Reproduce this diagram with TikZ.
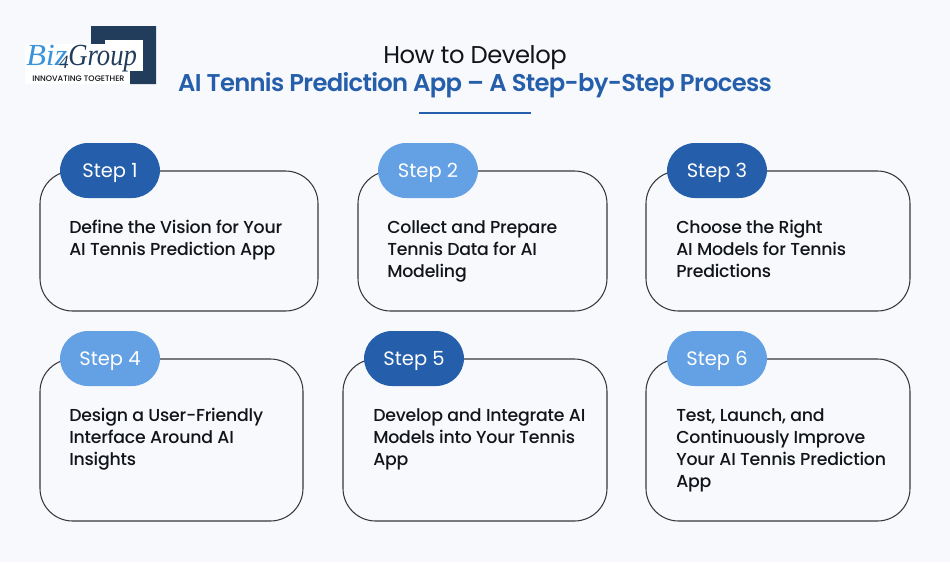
\documentclass[tikz,border=0pt]{standalone}
\usepackage{graphicx}
\usepackage{fontspec}
\setmainfont{Poppins}
\newfontfamily\medf{Poppins Medium}
\newfontfamily\semif{Poppins SemiBold}
\newfontfamily\logofont{Liberation Serif}
\definecolor{bgc}{HTML}{F8F9FC}
\definecolor{dkb}{HTML}{255EAA}
\definecolor{ltb}{HTML}{63A0E4}
\definecolor{navy}{HTML}{223D5C}
\definecolor{ink}{HTML}{111418}
\definecolor{logob}{HTML}{3A94DC}
\newcommand{\steplabel}[1]{\raisebox{-5.6pt}[0pt][0pt]{#1}}
\tikzset{
 card/.style={draw=ink!85,line width=0.8pt,rounded corners=24.5pt,fill=none},
 pill/.style={rounded corners=21pt,minimum width=75pt,minimum height=41.25pt,inner sep=0pt,text=white,font=\fontsize{14.6}{16}\selectfont},
 dark/.style={pill,fill=dkb},
 light/.style={pill,fill=ltb},
 body/.style={anchor=north west,inner sep=0pt,align=left,text=ink,font=\medf\fontsize{13}{16.5}\selectfont\addfontfeatures{LetterSpace=-1.2}}
}
\begin{document}
\begin{tikzpicture}[x=0.75pt,y=-0.75pt]
\useasboundingbox (0,0) rectangle (950,562);
\fill[bgc] (0,0) rectangle (950,562);
% logo
\fill[navy] (91,26) -- (156,26) -- (156,84) -- (130,84) -- (130,71) -- (143,71) -- (143,40) -- (105,40) -- (105,44) -- (91,44) -- cycle;
\fill[white] (25,44) rectangle (130,84);
\fill[white] (105,40) rectangle (143,71);
\node[inner sep=0pt,anchor=base west,text=logob] (lbiz) at (26,65) {\scalebox{1.05}[1]{\logofont\itshape\fontsize{23}{23}\selectfont Biz}};
\node[inner sep=0pt,anchor=base west,text=navy] (lfour) at (59,68) {\logofont\itshape\fontsize{14}{14}\selectfont 4};
\node[inner sep=0pt,anchor=base west,text=navy] (lgroup) at (68,65) {\scalebox{0.87}[1]{\logofont\itshape\fontsize{23}{23}\selectfont Group}};
\node[inner sep=0pt,anchor=base west,text=ink] (ltag) at (32,81) {\medf\fontsize{6}{6}\selectfont INNOVATING TOGETHER};
% title
\node[inner sep=0pt,anchor=base,text=ink] (t1) at (475,63) {\fontsize{18.2}{20}\selectfont\addfontfeatures{LetterSpace=-1.8} How to Develop};
\node[inner sep=0pt,anchor=base,text=dkb] (t2) at (475,91) {\semif\fontsize{18.2}{20}\selectfont\addfontfeatures{LetterSpace=-2.85} AI Tennis Prediction App – A Step-by-Step Process};
\coordinate (ul) at (419,113);
\coordinate (ur) at (531,113);
\draw[dkb,line width=1.1pt] (ul) -- (ur);
% cards
\draw[card] (40,171) rectangle (318,311);
\draw[card] (358,171) rectangle (607,311);
\draw[card] (646,171) rectangle (910,311);
\draw[card] (40,359) rectangle (303,521);
\draw[card] (343,359) rectangle (607,521);
\draw[card] (646,359) rectangle (910,521);
% pills
\node[dark]  (s1) at (110,170.5) {\steplabel{Step 1}};
\node[light] (s2) at (428,170.5) {\steplabel{Step 2}};
\node[dark]  (s3) at (717,170.5) {\steplabel{Step 3}};
\node[light] (s4) at (110,358.5) {\steplabel{Step 4}};
\node[dark]  (s5) at (414,358.5) {\steplabel{Step 5}};
\node[light] (s6) at (717,358.5) {\steplabel{Step 6}};
% body
\node[body] (b1) at (69,220) {Define the Vision for Your\\AI Tennis Prediction App};
\node[body] (b2) at (387,220) {Collect and Prepare\\Tennis Data for AI\\Modeling};
\node[body] (b3) at (676,220) {Choose the Right\\AI Models for Tennis\\Predictions};
\node[body] (b4) at (69,408) {Design a User-Friendly\\Interface Around AI\\Insights};
\node[body] (b5) at (373,408) {Develop and Integrate AI\\Models into Your Tennis\\App};
\node[body] (b6) at (676,408) {Test, Launch, and\\Continuously Improve\\Your AI Tennis Prediction\\App};
\end{tikzpicture}
\end{document}
